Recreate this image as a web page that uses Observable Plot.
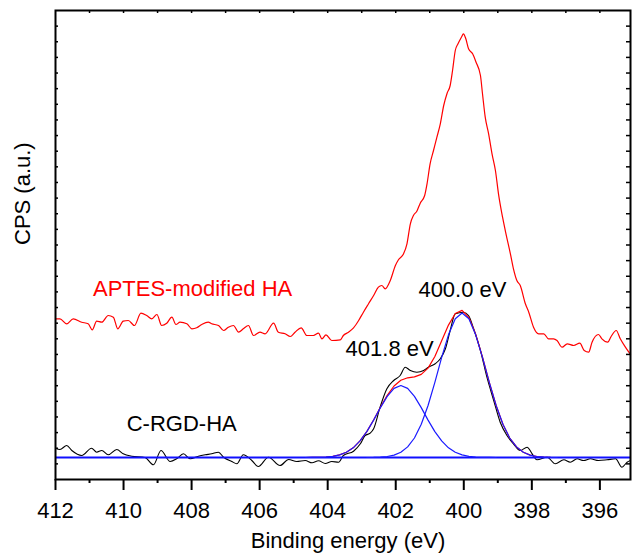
<!DOCTYPE html>
<html><head><meta charset="utf-8">
<script src="https://cdn.jsdelivr.net/npm/d3@7"></script>
<script src="https://cdn.jsdelivr.net/npm/@observablehq/plot@0.6"></script>
<style>body{margin:0;background:#fff}</style>
</head><body><div id="chart"></div>
<script>
// Binding energy (eV), CPS (a.u.)
const aptesHA = [[412.0,160.7],[411.87,160.7],[411.67,155.7],[411.48,160.7],[411.23,157.3],[411.04,155.7],[410.92,149.7],[410.79,158.3],[410.64,157.3],[410.45,164],[410.30,162.3],[410.17,150.7],[410.01,158.3],[409.86,159],[409.68,154],[409.49,166.3],[409.32,164],[409.17,160.7],[409.02,165],[408.88,154],[408.73,156.3],[408.58,162.3],[408.46,155],[408.34,157.3],[408.14,155.7],[407.99,150.7],[407.85,151.7],[407.70,155],[407.51,157.3],[407.41,155.7],[407.21,154],[407.06,149],[406.92,152.3],[406.77,154],[406.62,147.3],[406.48,150.7],[406.33,154],[406.18,144],[405.99,147.3],[405.84,145.7],[405.59,156.3],[405.45,147.3],[405.25,145.7],[405.10,143],[404.96,147.3],[404.78,151.7],[404.61,144],[404.42,144],[404.27,146.3],[404.17,140.7],[404.05,144.7],[403.88,139],[403.63,139.7],[403.54,144],[403.39,147.3],[403.24,151.7],[403.09,159],[402.95,167.3],[402.80,175.7],[402.65,184],[402.51,192.3],[402.41,194],[402.31,190.7],[402.16,199],[402.01,214],[401.92,219.7],[401.77,225.7],[401.67,235.7],[401.57,255.7],[401.48,264],[401.38,268.3],[401.28,276.3],[401.15,284],[401.08,295.7],[400.99,315.7],[400.89,329],[400.79,342.3],[400.69,355.7],[400.59,374],[400.49,386.3],[400.40,394],[400.33,409],[400.25,429],[400.17,435.7],[400.07,442.3],[400.01,445.7],[399.94,440.7],[399.86,430.7],[399.74,425.7],[399.64,417.3],[399.51,404],[399.45,385.7],[399.37,362.3],[399.27,345.7],[399.17,325.7],[399.07,309],[398.98,285.7],[398.86,262.3],[398.76,245.7],[398.63,225.7],[398.54,210.7],[398.44,199],[398.34,194],[398.19,175.7],[398.09,167.3],[397.95,152.3],[397.80,145.7],[397.65,145.7],[397.51,140.7],[397.36,140.7],[397.26,139],[397.11,132.3],[396.96,135.7],[396.77,134],[396.59,136.3],[396.46,129],[396.33,127.3],[396.23,137.3],[396.04,145],[395.94,140.7],[395.77,137.3],[395.67,143],[395.52,149],[395.40,140.7],[395.25,132.3],[395.10,125]];

const crgdHA = [[412.0,31.3],[411.87,30],[411.67,34],[411.52,29],[411.23,24],[410.94,31.3],[410.79,27.3],[410.64,29],[410.45,24.7],[410.20,30],[410.01,25.7],[409.76,23.3],[409.37,22],[409.12,14.7],[408.90,29],[408.63,18],[408.44,20.7],[408.24,25.7],[408.04,20.7],[407.80,23.3],[407.60,24.7],[407.41,25.7],[407.21,27.3],[407.06,22.3],[406.82,18],[406.67,15.7],[406.48,24.7],[406.23,19],[406.04,13],[405.74,22.3],[405.40,14],[405.15,20],[404.91,18],[404.66,19],[404.46,16.7],[404.27,18.7],[404.07,16],[403.88,18],[403.68,17.3],[403.54,24],[403.24,28.3],[403.04,35.7],[402.90,44],[402.75,46.3],[402.65,50.7],[402.46,72.3],[402.26,90.7],[402.06,99],[401.87,104],[401.72,112.3],[401.57,109],[401.38,107.3],[401.18,109],[401.04,112.3],[400.84,115.7],[400.69,120.7],[400.54,130.7],[400.40,149],[400.25,165.7],[400.01,167.3],[399.86,164],[399.71,150.7],[399.51,129],[399.32,102.3],[399.12,79],[398.93,57.3],[398.73,44],[398.54,35.7],[398.34,29],[398.14,32.3],[397.99,25.7],[397.85,19.7],[397.55,22.3],[397.31,15.7],[397.06,19.7],[396.87,17.3],[396.67,20.7],[396.48,19],[396.28,20.7],[396.04,19],[395.79,19.7],[395.54,20.7],[395.35,12.3],[395.20,17.3],[395.10,19]];

// fitted components (401.8 eV and 400.0 eV) and their envelope
const fitPeak1 = [[404.65,22.0],[404.45,22.1],[404.25,22.2],[404.05,22.5],[403.85,23.2],[403.65,24.6],[403.45,27.3],[403.25,31.7],[403.05,38.6],[402.85,47.9],[402.65,59.4],[402.45,71.9],[402.25,83.1],[402.05,91.1],[401.85,94.0],[401.65,91.1],[401.45,83.1],[401.25,71.9],[401.05,59.4],[400.85,47.9],[400.65,38.6],[400.45,31.7],[400.25,27.3],[400.05,24.6],[399.85,23.2],[399.65,22.5],[399.45,22.2],[399.25,22.1],[399.05,22.0]];
const fitPeak2 = [[402.85,22.0],[402.65,22.1],[402.45,22.4],[402.25,23.0],[402.05,24.4],[401.85,27.3],[401.65,32.6],[401.45,41.5],[401.25,55.2],[401.05,74.0],[400.85,97.1],[400.65,122.1],[400.45,144.7],[400.25,160.7],[400.05,166.5],[399.85,160.7],[399.65,144.7],[399.45,122.1],[399.25,97.1],[399.05,74.0],[398.85,55.2],[398.65,41.5],[398.45,32.6],[398.25,27.3],[398.05,24.4],[397.85,23.0],[397.65,22.4],[397.45,22.1],[397.25,22.0]];
const fitEnvelope = [[404.65,22.0],[404.45,22.1],[404.25,22.2],[404.05,22.5],[403.85,23.2],[403.65,24.6],[403.45,27.3],[403.25,31.7],[403.05,38.6],[402.85,47.9],[402.65,59.5],[402.45,72.3],[402.25,84.1],[402.05,93.5],[401.85,99.3],[401.65,101.7],[401.45,102.6],[401.25,105.1],[401.05,111.4],[400.85,123.0],[400.65,138.7],[400.45,154.4],[400.25,166.0],[400.05,169.1],[399.85,161.9],[399.65,145.2],[399.45,122.3],[399.25,97.2],[399.05,74.0],[398.85,55.2],[398.65,41.5],[398.45,32.6],[398.25,27.3],[398.05,24.4],[397.85,23.0],[397.65,22.4],[397.45,22.1],[397.25,22.0]];
const fitBaseline = [22];

const majorTicks = [412,410,408,406,404,402,400,398,396];
const minorTicks = [411,409,407,405,403,401,399,397];
const topTicks = [411,410,409,408,407,406,405,404,403,402,401,400,399,398,397,396];
const annotations = [
  {text:"APTES-modified HA", e:407.97, v:191, color:"#ff0000"},
  {text:"C-RGD-HA", e:408.29, v:56, color:"#000000"},
  {text:"400.0 eV", e:400.04, v:190, color:"#000000"},
  {text:"401.8 eV", e:402.18, v:131, color:"#000000"}
];

const rows = a => a.map(([e, v]) => ({e, v}));
const yMax = 469;
const yTicks = d3.range(1, 30).map(k => k * yMax / 30);
const frameW = 575, frameH = 469;

const chart = Plot.plot({
  width: 633, height: 555,
  marginLeft: 55, marginRight: 3, marginTop: 10, marginBottom: 76,
  style: {fontFamily: "'Liberation Sans', Arial, Helvetica, sans-serif", background: "#fff", color: "#000"},
  x: {domain: [412, 395.1], label: null},
  y: {domain: [0, yMax], axis: null, label: null},
  color: {type: "identity"},
  marks: [
    Plot.line(rows(crgdHA), {x: "e", y: "v", stroke: "#000", strokeWidth: 1.1, curve: "monotone-x"}),
    Plot.line(rows(aptesHA), {x: "e", y: "v", stroke: "#ff0000", strokeWidth: 1.2, curve: "monotone-x"}),
    Plot.line(rows(fitEnvelope), {x: "e", y: "v", stroke: "#ff0000", strokeWidth: 1.2}),
    Plot.ruleY(fitBaseline, {stroke: "#1010ff", strokeWidth: 1.8}),
    Plot.line(rows(fitPeak1), {x: "e", y: "v", stroke: "#1a1aff", strokeWidth: 1.2}),
    Plot.line(rows(fitPeak2), {x: "e", y: "v", stroke: "#1a1aff", strokeWidth: 1.2}),
    Plot.ruleX(topTicks, {x: d => d, insetBottom: frameH - 3, stroke: "#000", strokeWidth: 1.5}),
    Plot.ruleY(yTicks, {y: d => d, insetRight: frameW - 3, stroke: "#000", strokeWidth: 1.5}),
    Plot.ruleY(yTicks, {y: d => d, insetLeft: frameW - 4, stroke: "#000", strokeWidth: 1.5}),
    Plot.frame({stroke: "#000", strokeWidth: 2}),
    Plot.axisX({ticks: majorTicks, anchor: "bottom", tickSize: 11, tickPadding: 12, fontSize: 22, strokeWidth: 2, label: null}),
    Plot.axisX({ticks: minorTicks, anchor: "bottom", tickSize: 4, tickFormat: () => "", strokeWidth: 2, label: null}),
    Plot.text(annotations, {x: "e", y: "v", text: "text", fill: "color", fontSize: 22}),
    Plot.text(["Binding energy (eV)"], {frameAnchor: "bottom", dx: 5, dy: 68, fontSize: 22, fill: "#000"}),
    Plot.text(["CPS (a.u.)"], {frameAnchor: "left", dx: -33, rotate: -90, fontSize: 22, fill: "#000"})
  ]
});
document.getElementById("chart").appendChild(chart);
</script>
</body></html>
